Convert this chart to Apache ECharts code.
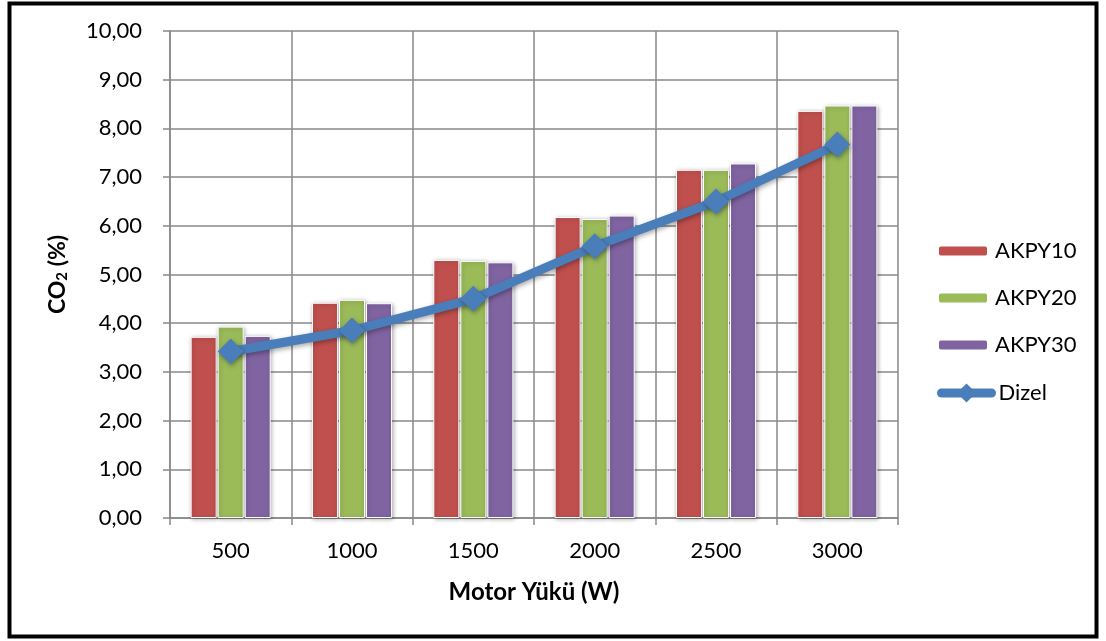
<!DOCTYPE html>
<html>
<head>
<meta charset="utf-8">
<script src="https://cdn.jsdelivr.net/npm/echarts@6/dist/echarts.min.js"></script>
<style>
  html, body { margin: 0; padding: 0; background: #fff; }
  #chart { width: 1106px; height: 641px; }
</style>
</head>
<body>
<div id="chart"></div>
<script>
// Engine load (W) categories
const loads = ['500', '1000', '1500', '2000', '2500', '3000'];
// CO2 emissions (%) per fuel blend
const akpy10 = [3.72, 4.42, 5.30, 6.18, 7.15, 8.36];
const akpy20 = [3.93, 4.48, 5.28, 6.14, 7.15, 8.47];
const akpy30 = [3.74, 4.41, 5.25, 6.21, 7.28, 8.47];
const dizel  = [3.42, 3.85, 4.50, 5.58, 6.50, 7.67];
const yTicks = { min: 0, max: 10, step: 1 };

const FONT = 'Lato, "Open Sans", sans-serif';
const GRID_GRAY = '#888888';
const DIZEL_BLUE = '#4A7EBB';

const barShadow = {
  borderColor: '#ffffff',
  borderWidth: 1,
  shadowColor: 'rgba(0,0,0,0.3)',
  shadowBlur: 4,
  shadowOffsetX: 1,
  shadowOffsetY: 1
};

function barSeries(name, data, color) {
  return {
    name: name,
    type: 'bar',
    data: data,
    barWidth: 26,
    barGap: '4%',
    itemStyle: Object.assign({ color: color }, barShadow)
  };
}

const legendText = { fontSize: 22, color: '#000', fontFamily: FONT, padding: [0, 0, 0, 2] };

const chart = echarts.init(document.getElementById('chart'), null, { renderer: 'canvas' });

chart.setOption({
  animation: false,
  backgroundColor: '#ffffff',
  textStyle: { fontFamily: FONT },
  graphic: [{
    type: 'rect',
    shape: { x: 9.5, y: 3.5, width: 1087, height: 633 },
    style: { fill: 'none', stroke: '#000000', lineWidth: 4 },
    z: 100
  }],
  grid: { left: 170, right: 208, top: 31, bottom: 123, containLabel: false },
  legend: [
    {
      orient: 'vertical',
      left: 932,
      top: 235,
      itemWidth: 50,
      itemHeight: 11,
      itemGap: 25,
      textStyle: legendText,
      data: ['AKPY10', 'AKPY20', 'AKPY30']
    },
    {
      orient: 'vertical',
      left: 932,
      top: 377,
      itemWidth: 50,
      itemHeight: 24,
      lineStyle: { width: 9, cap: 'round' },
      textStyle: legendText,
      data: ['Dizel']
    }
  ],
  xAxis: {
    type: 'category',
    data: loads,
    boundaryGap: true,
    name: 'Motor Yükü (W)',
    nameLocation: 'middle',
    nameGap: 62,
    nameTextStyle: { fontSize: 24, fontWeight: 'bold', color: '#000', fontFamily: FONT },
    axisLine: { show: true, lineStyle: { color: GRID_GRAY, width: 1.5 } },
    axisTick: { show: true, length: 7, alignWithLabel: false, lineStyle: { color: GRID_GRAY, width: 1.5 } },
    axisLabel: { fontSize: 22, color: '#000', margin: 22, fontFamily: FONT },
    splitLine: { show: true, interval: 0, lineStyle: { color: GRID_GRAY, width: 1.5 } }
  },
  yAxis: {
    type: 'value',
    min: yTicks.min,
    max: yTicks.max,
    interval: yTicks.step,
    name: '{a|CO}{s|2}{a| (%)}',
    nameLocation: 'middle',
    nameGap: 100,
    nameRotate: 90,
    nameTextStyle: {
      rich: {
        a: { fontSize: 23, fontWeight: 'bold', color: '#000', fontFamily: FONT },
        s: { fontSize: 15, fontWeight: 'bold', color: '#000', fontFamily: FONT, padding: [10, 0, 0, 0] }
      }
    },
    axisLine: { show: true, lineStyle: { color: GRID_GRAY, width: 1.5 } },
    axisTick: { show: true, length: 7, inside: false, lineStyle: { color: GRID_GRAY, width: 1.5 } },
    axisLabel: {
      fontSize: 22, color: '#000', margin: 28, fontFamily: FONT,
      formatter: v => v.toFixed(2).replace('.', ',')
    },
    splitLine: { show: true, lineStyle: { color: GRID_GRAY, width: 1.5 } }
  },
  series: [
    barSeries('AKPY10', akpy10, '#C0504D'),
    barSeries('AKPY20', akpy20, '#9BBB59'),
    barSeries('AKPY30', akpy30, '#8064A2'),
    {
      name: 'Dizel',
      type: 'line',
      data: dizel,
      z: 10,
      symbol: 'diamond',
      symbolSize: 26,
      lineStyle: {
        color: DIZEL_BLUE, width: 9,
        shadowColor: 'rgba(0,0,0,0.35)', shadowBlur: 5, shadowOffsetX: 1, shadowOffsetY: 2
      },
      itemStyle: {
        color: DIZEL_BLUE,
        shadowColor: 'rgba(0,0,0,0.35)', shadowBlur: 5, shadowOffsetX: 1, shadowOffsetY: 2
      }
    }
  ]
});
</script>
</body>
</html>
